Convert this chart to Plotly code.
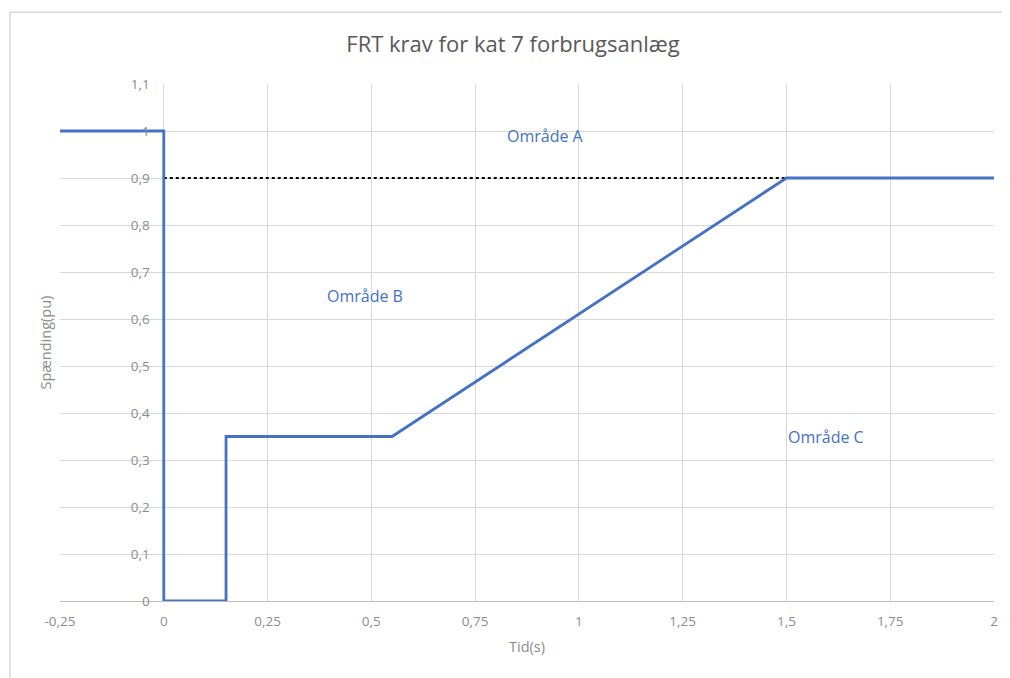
import plotly.graph_objects as go

# Data
t_s = [-0.25, 0, 0, 0.15, 0.15, 0.55, 1.5, 2]
u_pu = [1, 1, 0, 0, 0.35, 0.35, 0.9, 0.9]
ref_t = [0, 1.5]
ref_u = [0.9, 0.9]
x_ticks = [-0.25, 0, 0.25, 0.5, 0.75, 1, 1.25, 1.5, 1.75, 2]
x_labels = ["-0,25", "0", "0,25", "0,5", "0,75", "1", "1,25", "1,5", "1,75", "2"]
y_ticks = [0, 0.1, 0.2, 0.3, 0.4, 0.5, 0.6, 0.7, 0.8, 0.9, 1, 1.1]
y_labels = ["0", "0,1", "0,2", "0,3", "0,4", "0,5", "0,6", "0,7", "0,8", "0,9", "1", "1,1"]
zone_names = ["Område A", "Område B", "Område C"]
zone_t = [0.92, 0.485, 1.595]
zone_u = [0.99, 0.65, 0.35]

BLUE = "#4472C4"
GRID = "#d9d9d9"
TXT = "#8c8c8c"
FONT = "Open Sans"

fig = go.Figure()
fig.add_trace(go.Scatter(x=ref_t, y=ref_u, mode="lines",
                         line=dict(color="black", width=2, dash="dot"),
                         showlegend=False, hoverinfo="skip"))
fig.add_trace(go.Scatter(x=t_s, y=u_pu, mode="lines",
                         line=dict(color=BLUE, width=2.8),
                         showlegend=False))

for name, tx, uy in zip(zone_names, zone_t, zone_u):
    fig.add_annotation(x=tx, y=uy, text=name, showarrow=False,
                       font=dict(family=FONT, size=16, color=BLUE))

fig.add_shape(type="rect", xref="paper", yref="paper",
              x0=-0.0535, x1=1.2, y0=-0.3, y1=1.139,
              line=dict(color=GRID, width=1.5), fillcolor="rgba(0,0,0,0)", layer="below")

fig.update_layout(
    width=1002, height=670,
    margin=dict(l=52, r=16, t=76, b=77),
    paper_bgcolor="white", plot_bgcolor="white",
    separators=",.",
    font=dict(family=FONT, color=TXT, size=13),
    title=dict(text="FRT krav for kat 7 forbrugsanlæg", x=0.504, xref="container",
               xanchor="center", y=0.946, yref="container", yanchor="middle",
               font=dict(family=FONT, size=22, color="#595959")),
    xaxis=dict(range=[-0.25, 2], tickvals=x_ticks, ticktext=x_labels,
               showgrid=True, gridcolor=GRID, gridwidth=1, zeroline=False,
               showline=True, linecolor="#bfbfbf", linewidth=1,
               ticks="", ticklabelstandoff=8,
               tickfont=dict(family=FONT, size=13.5, color=TXT),
               title=dict(text="Tid(s)", font=dict(family=FONT, size=14.5, color=TXT), standoff=12)),
    yaxis=dict(range=[0, 1.1], tickvals=y_ticks, ticktext=y_labels,
               anchor="free", position=0.25 / 2.25,
               showgrid=True, gridcolor=GRID, gridwidth=1, zeroline=False,
               showline=False, ticks="", ticklabelstandoff=14,
               tickfont=dict(family=FONT, size=13.5, color=TXT)),
)

fig.add_annotation(xref="paper", yref="paper", x=-0.015, y=0.5, xanchor="center",
                   yanchor="middle", text="Spænding(pu)", textangle=-90, showarrow=False,
                   font=dict(family=FONT, size=14.5, color=TXT))

fig.write_html("out.html")
